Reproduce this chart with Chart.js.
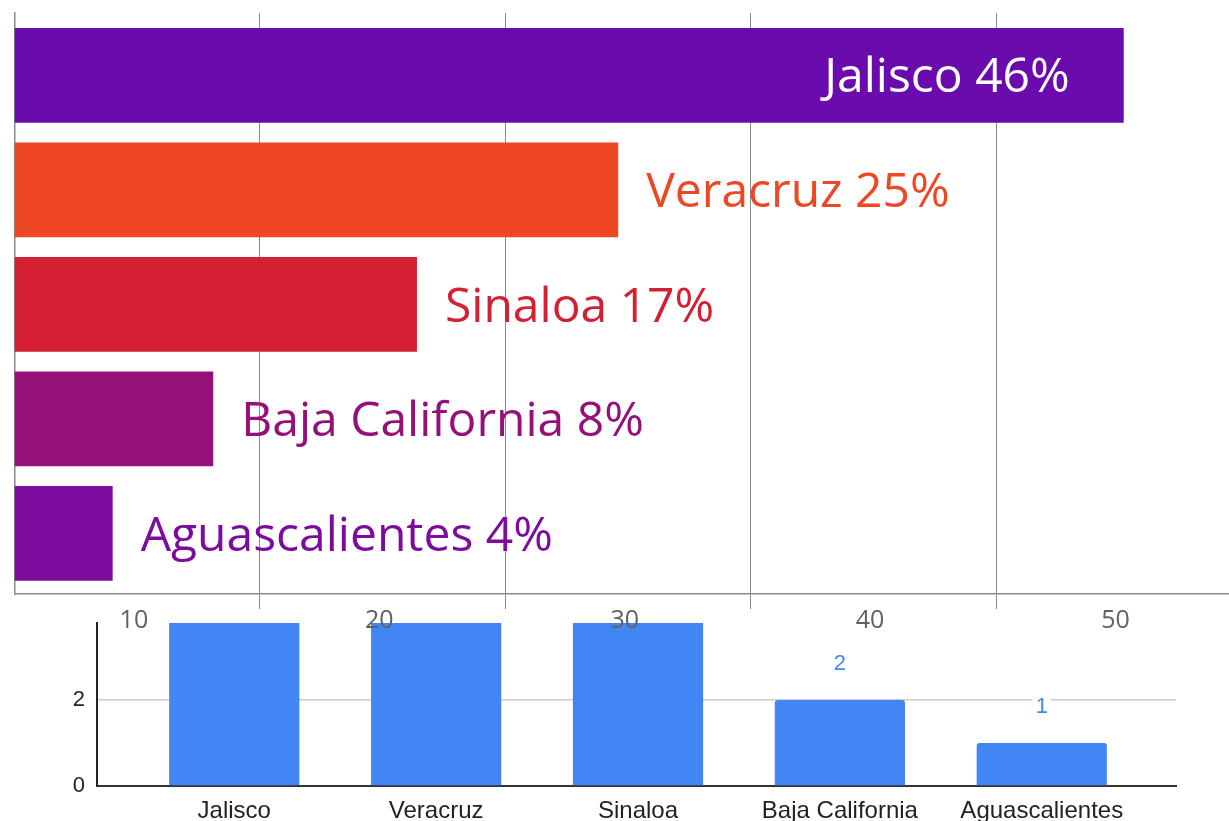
<!DOCTYPE html>
<html>
<head>
<meta charset="utf-8">
<script src="https://cdn.jsdelivr.net/npm/chart.js@4.4.1/dist/chart.umd.min.js"></script>
<style>
    html, body { margin: 0; padding: 0; background: #fff; overflow: hidden; }
    #wrap { position: relative; width: 1229px; height: 821px; }
    .box { position: absolute; left: 0; top: 0; width: 1229px; height: 821px; }
    #topBox { z-index: 2; }
    #bottomBox { z-index: 1; }
</style>
</head>
<body>
<div id="wrap">
    <div class="box" id="bottomBox"><canvas id="countChart"></canvas></div>
    <div class="box" id="topBox"><canvas id="shareChart"></canvas></div>
</div>
<script>
const states = ['Jalisco', 'Veracruz', 'Sinaloa', 'Baja California', 'Aguascalientes'];
const shareValues = [45.2, 24.6, 16.4, 8.1, 4.0];
const shareLabels = ['46%', '25%', '17%', '8%', '4%'];
const shareTicks = [10, 20, 30, 40, 50];
const countValues = [11, 6, 4, 2, 1];
const countTicks = [0, 2];
const stateColors = ['#6A0CAD', '#EF4623', '#D52033', '#96107A', '#7D0B9E'];

let shareChart, countChart;

// text next to (or inside) each horizontal bar
const shareLabelPlugin = {
    id: 'shareLabels',
    afterDatasetsDraw(chart) {
        const ctx = chart.ctx;
        const bars = chart.getDatasetMeta(0).data;
        ctx.save();
        ctx.font = '48px "Open Sans"';
        ctx.textBaseline = 'middle';
        bars.forEach((bar, i) => {
            const text = states[i] + ' ' + shareLabels[i];
            const w = ctx.measureText(text).width;
            if (bar.x + 28 + w > chart.chartArea.right) {
                ctx.fillStyle = '#ffffff';
                ctx.textAlign = 'right';
                ctx.fillText(text, bar.x - 54, bar.y + 3);
            } else {
                ctx.fillStyle = stateColors[i];
                ctx.textAlign = 'left';
                ctx.fillText(text, bar.x + 28, bar.y + 4);
            }
        });
        ctx.restore();
    }
};

// value above each column, only when it falls inside the visible area
const countLabelPlugin = {
    id: 'countLabels',
    afterDatasetsDraw(chart) {
        const { ctx, chartArea } = chart;
        const bars = chart.getDatasetMeta(0).data;
        ctx.save();
        ctx.font = '22px "Liberation Sans", Arial, sans-serif';
        ctx.textAlign = 'center';
        ctx.textBaseline = 'middle';
        bars.forEach((bar, i) => {
            const y = bar.y - 36;
            if (y - 10 < chartArea.top) return;
            const text = String(countValues[i]);
            const w = ctx.measureText(text).width;
            ctx.fillStyle = '#ffffff';
            ctx.fillRect(bar.x - w / 2 - 3, y - 9, w + 6, 18);
            ctx.fillStyle = '#4285F4';
            ctx.fillText(text, bar.x, y);
        });
        ctx.restore();
    }
};

function createShareChart() {
    const ctx = document.getElementById('shareChart').getContext('2d');
    shareChart = new Chart(ctx, {
        type: 'bar',
        data: {
            datasets: [{
                data: shareValues.map((v, i) => ({ x: v, y: i })),
                backgroundColor: stateColors,
                borderWidth: 0,
                categoryPercentage: 0.827,
                barPercentage: 1
            }]
        },
        options: {
            indexAxis: 'y',
            responsive: true,
            maintainAspectRatio: false,
            animation: false,
            layout: {
                autoPadding: false,
                padding: { top: 13, left: 14.5, right: 0, bottom: 821 - 594 - 40 }
            },
            plugins: {
                legend: { display: false },
                tooltip: { enabled: false }
            },
            scales: {
                x: {
                    type: 'linear',
                    min: 0,
                    max: 49.49,
                    afterBuildTicks: s => { s.ticks = shareTicks.map(v => ({ value: v })); },
                    afterFit: s => {
                        s.height = 40;
                        s.paddingLeft = 0;
                        s.paddingRight = 0;
                    },
                    grid: {
                        color: '#8a8a8a',
                        lineWidth: 1,
                        tickLength: 15
                    },
                    border: {
                        color: '#8a8a8a',
                        width: 1.5
                    },
                    ticks: {
                        labelOffset: -126,
                        padding: -3,
                        color: '#616161',
                        autoSkip: false,
                        maxRotation: 0,
                        font: { family: 'Open Sans', size: 25 }
                    }
                },
                y: {
                    type: 'linear',
                    reverse: true,
                    offset: false,
                    min: -0.544,
                    max: 4.53,
                    afterBuildTicks: s => { s.ticks = states.map((_, i) => ({ value: i })); },
                    afterFit: s => {
                        s.width = 0;
                        s.paddingTop = 0;
                        s.paddingBottom = 0;
                    },
                    grid: { display: false, drawTicks: false, offset: false },
                    ticks: { display: false },
                    border: {
                        color: '#8a8a8a',
                        width: 1.5
                    }
                }
            }
        },
        plugins: [shareLabelPlugin]
    });
}

function createCountChart() {
    const ctx = document.getElementById('countChart').getContext('2d');
    countChart = new Chart(ctx, {
        type: 'bar',
        data: {
            datasets: [{
                data: countValues.map((v, i) => ({ x: i, y: v })),
                backgroundColor: '#4285F4',
                borderWidth: 0,
                borderRadius: 3,
                categoryPercentage: 0.645,
                barPercentage: 1
            }]
        },
        options: {
            responsive: true,
            maintainAspectRatio: false,
            animation: false,
            layout: {
                autoPadding: false,
                padding: { top: 623, left: 0, right: 53, bottom: 0 }
            },
            plugins: {
                legend: { display: false },
                tooltip: { enabled: false }
            },
            scales: {
                x: {
                    type: 'linear',
                    offset: false,
                    min: -0.68,
                    max: 4.665,
                    afterBuildTicks: s => { s.ticks = states.map((_, i) => ({ value: i })); },
                    afterFit: s => {
                        s.height = 35;
                        s.paddingLeft = 0;
                        s.paddingRight = 0;
                    },
                    grid: { display: false, offset: false },
                    border: {
                        color: '#333333',
                        width: 2
                    },
                    ticks: {
                        padding: 3,
                        color: '#222222',
                        autoSkip: false,
                        maxRotation: 0,
                        font: { family: 'Liberation Sans', size: 24 },
                        callback: v => states[v]
                    }
                },
                y: {
                    min: 0,
                    max: 3.79,
                    afterBuildTicks: s => { s.ticks = countTicks.map(v => ({ value: v })); },
                    afterFit: s => {
                        s.width = 97;
                        s.paddingTop = 0;
                        s.paddingBottom = 0;
                    },
                    grid: {
                        color: '#cccccc',
                        lineWidth: 1.5,
                        drawTicks: false
                    },
                    border: {
                        color: '#222222',
                        width: 2
                    },
                    ticks: {
                        padding: 12,
                        color: '#222222',
                        font: { family: 'Liberation Sans', size: 22 }
                    }
                }
            }
        },
        plugins: [countLabelPlugin]
    });
}

createCountChart();
createShareChart();
</script>
</body>
</html>
